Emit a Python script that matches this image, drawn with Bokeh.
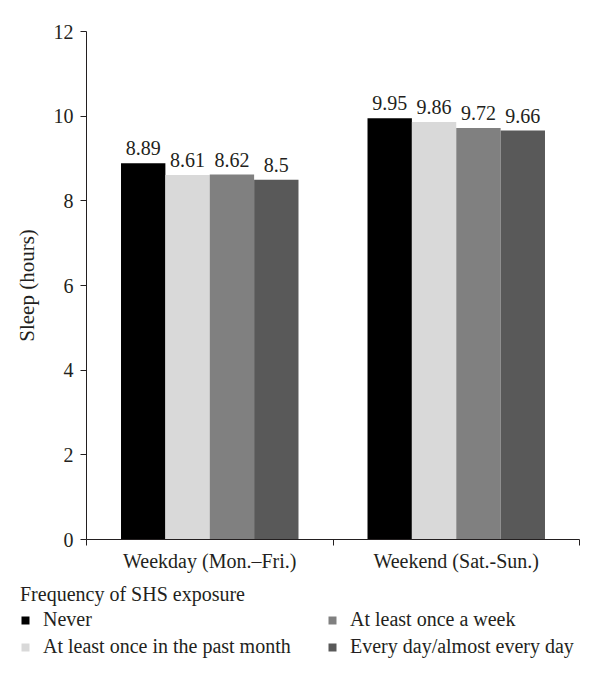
from bokeh.plotting import figure
from bokeh.models import (ColumnDataSource, Range1d, FixedTicker, Legend, LegendItem, LabelSet,
                          LinearAxis)
from bokeh.embed import file_html
from bokeh.resources import INLINE

groups = ["Weekday (Mon.\u2013Fri.)", "Weekend (Sat.-Sun.)"]
series = ["Never", "At least once in the past month", "At least once a week", "Every day/almost every day"]
never = [8.89, 9.95]
past_month = [8.61, 9.86]
once_week = [8.62, 9.72]
every_day = [8.5, 9.66]
values = [never, past_month, once_week, every_day]
colors = ["#000000", "#d9d9d9", "#808080", "#595959"]
y_ticks = [0, 2, 4, 6, 8, 10, 12]
y_max = 12

FONT = "Liberation Serif"
TXT = "#231f20"

W, H = 600, 680
# plot area in pixels: left 86, right 579, top 31, bottom 539
PL, PR, PT, PB = 86, 579, 31, 539
px_per_x = (PR - PL) / len(groups)
px_per_y = (PB - PT) / y_max
x_rng = Range1d(-PL / px_per_x, len(groups) + (W - PR) / px_per_x)
y_rng = Range1d(-(H - PB) / px_per_y, y_max + PT / px_per_y)

p = figure(width=W, height=H, output_backend="svg", toolbar_location=None,
           x_range=x_rng, y_range=y_rng, x_axis_type=None, y_axis_type=None,
           min_border=0)
p.outline_line_color = None
p.xgrid.grid_line_color = None
p.ygrid.grid_line_color = None

bar_w = 0.18
renderers = []
for j, (vals, col) in enumerate(zip(values, colors)):
    xs = [i + 0.5 + (j - 1.5) * bar_w for i in range(len(groups))]
    src = ColumnDataSource(dict(x=xs, top=vals, lab=[str(v) for v in vals]))
    r = p.vbar(x="x", top="top", width=bar_w, source=src, fill_color=col, line_color=None)
    renderers.append(r)
    p.add_layout(LabelSet(x="x", y="top", text="lab", source=src, text_align="center",
                          text_baseline="bottom", y_offset=8, text_font=FONT,
                          text_font_size="20px", text_color=TXT))

# x axis
xa = LinearAxis(fixed_location=0, bounds=(0, len(groups)))
xa.ticker = FixedTicker(ticks=[i + 0.5 for i in range(len(groups))],
                        minor_ticks=list(range(len(groups) + 1)))
xa.major_label_overrides = {i + 0.5: g for i, g in enumerate(groups)}
xa.major_tick_line_color = None
xa.major_tick_out = 0
xa.major_tick_in = 0
xa.minor_tick_line_color = TXT
xa.minor_tick_out = 6
xa.minor_tick_in = 0
xa.major_label_standoff = 4
xa.major_label_text_font = FONT
xa.major_label_text_font_size = "20px"
xa.major_label_text_color = TXT
xa.axis_line_color = TXT
p.add_layout(xa, "below")

ya = LinearAxis(fixed_location=0, bounds=(0, y_max))
ya.ticker = FixedTicker(ticks=y_ticks, minor_ticks=[])
ya.minor_tick_line_color = None
ya.major_tick_out = 6
ya.major_tick_in = 0
ya.major_tick_line_color = TXT
ya.axis_line_color = TXT
ya.major_label_standoff = 7
ya.major_label_text_font = FONT
ya.major_label_text_font_size = "20px"
ya.major_label_text_color = TXT
ya.axis_label = "Sleep (hours)"
ya.axis_label_text_font = FONT
ya.axis_label_text_font_style = "normal"
ya.axis_label_text_font_size = "21px"
ya.axis_label_text_color = TXT
ya.axis_label_standoff = 12
p.add_layout(ya, "left")

items = [LegendItem(label=s, renderers=[r]) for s, r in zip(series, renderers)]
legend = Legend(items=items, location=(20, 20), orientation="vertical", nrows=2, ncols=2,
                title="Frequency of SHS exposure", title_text_font=FONT,
                title_text_font_size="20px", title_text_font_style="normal", title_text_color=TXT,
                title_standoff=0,
                label_text_font=FONT, label_text_font_size="20px", label_text_color=TXT,
                glyph_width=10, glyph_height=10, label_standoff=13, label_height=27,
                label_width=284, spacing=0, padding=0, margin=0,
                border_line_color=None, background_fill_alpha=0)
p.add_layout(legend, "center")

open("out.html", "w").write(file_html(p, INLINE))
